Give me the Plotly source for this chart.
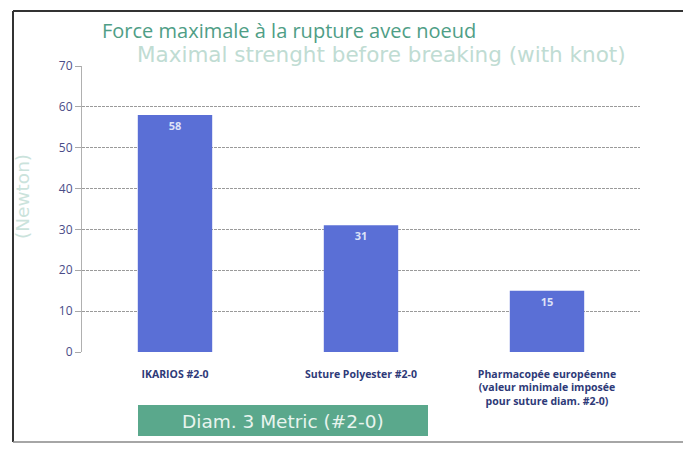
import plotly.graph_objects as go

categories = ["IKARIOS #2-0", "Suture Polyester #2-0",
              "Pharmacopée européenne<br>(valeur minimale imposée<br>pour suture diam. #2-0)"]
values = [58, 31, 15]
title_fr = "Force maximale à la rupture avec noeud"
title_en = "Maximal strenght before breaking (with knot)"
y_title = "(Newton)"
box_label = "Diam. 3 Metric (#2-0)"
y_ticks = [0, 10, 20, 30, 40, 50, 60, 70]

# page body has an 8px margin; work in reference-pixel coords and shift
OFF = 8
W, H = 691 - OFF, 454 - OFF
L, R, T, B = 82 - OFF, 640 - OFF, 66 - OFF, 352 - OFF
pw, ph = R - L, B - T

def px(x):
    return (x - OFF - L) / pw

def py(y):
    return (B - (y - OFF)) / ph

fig = go.Figure()
fig.add_trace(go.Bar(
    x=categories, y=values, width=0.4,
    marker=dict(color="#5a6fd6", line=dict(width=0)),
    text=["<b>%d</b>" % v for v in values], textposition="inside",
    insidetextanchor="end",
    textfont=dict(color="#dde2f7", size=11, family="Open Sans"),
))

fig.update_layout(
    width=W, height=H,
    margin=dict(l=L, r=W - R, t=T, b=H - B),
    paper_bgcolor="white", plot_bgcolor="white",
    showlegend=False, font=dict(family="Open Sans"),
    xaxis=dict(range=[-0.5, 2.5], showgrid=False, showline=False,
               ticks="", ticklabelstandoff=14,
               tickvals=categories,
               ticktext=["<b>%s</b>" % c for c in categories],
               tickfont=dict(size=10.5, color="#2e3a78", family="Open Sans"),
               zeroline=False),
    yaxis=dict(range=[0, 70], tickvals=y_ticks, showgrid=True,
               gridcolor="#9a9a9a", griddash="3px,1px", gridwidth=1,
               zeroline=False, showline=True, linecolor="#b0b0b0",
               ticks="outside", ticklen=6, tickcolor="#a8a8a8",
               tickfont=dict(size=12, color="#4a4c88", family="Open Sans")),
)

annotations = [
    dict(text=title_fr, x=px(100), y=py(30), xanchor="left", yanchor="middle",
         font=dict(size=20, color="#4f9e86", family="Open Sans")),
    dict(text=title_en, x=px(135), y=py(55), xanchor="left", yanchor="middle",
         font=dict(size=21.5, color="#c0dcd3", family="DejaVu Sans")),
    dict(text=y_title, x=px(22), y=py(197), textangle=-90, xanchor="center",
         yanchor="middle", font=dict(size=18.5, color="#cbe3dc", family="DejaVu Sans")),
    dict(text=box_label, x=px(283), y=py(421), xanchor="center", yanchor="middle",
         font=dict(size=18.5, color="#e8f4ee", family="DejaVu Sans")),
]
for a in annotations:
    a.update(xref="paper", yref="paper", showarrow=False)
fig.update_layout(annotations=annotations)

fig.add_shape(type="rect", xref="paper", yref="paper",
              x0=px(138), x1=px(428), y0=py(436), y1=py(405),
              fillcolor="#5aa88c", line=dict(width=0), layer="below")
frame = dict(color="#333333", width=2)
fig.add_shape(type="line", xref="paper", yref="paper",
              x0=px(13), x1=px(691), y0=py(11), y1=py(11), line=frame)
fig.add_shape(type="line", xref="paper", yref="paper",
              x0=px(13), x1=px(13), y0=py(11), y1=py(442), line=frame)
fig.add_shape(type="line", xref="paper", yref="paper",
              x0=px(13), x1=px(691), y0=py(442), y1=py(442),
              line=dict(color="#888888", width=1.5))

fig.write_html("out.html")
